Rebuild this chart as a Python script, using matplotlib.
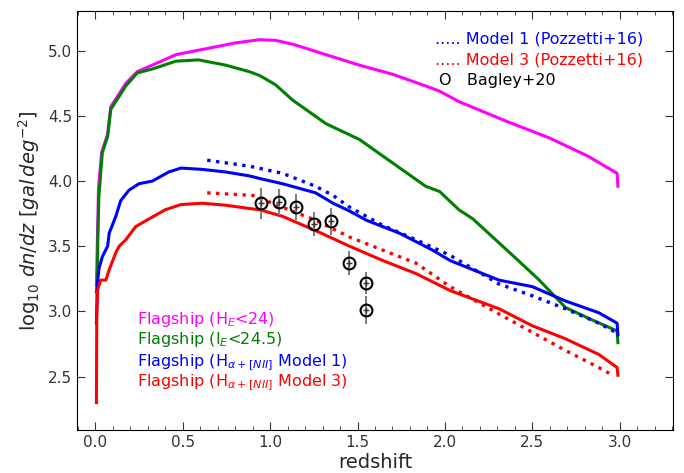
import numpy as np
import matplotlib
matplotlib.use('Agg')
import matplotlib.pyplot as plt
from matplotlib.ticker import MultipleLocator

# Flagship dn/dz curves
z_he = [0.006, 0.018, 0.036, 0.07, 0.088, 0.136, 0.174, 0.24, 0.326, 0.46, 0.65, 0.80,
        0.94, 1.03, 1.13, 1.32, 1.51, 1.70, 1.89, 1.97, 2.08, 2.35, 2.60, 2.82, 2.985, 2.99]
v_he = [3.2, 3.95, 4.22, 4.36, 4.57, 4.67, 4.75, 4.84, 4.89, 4.97, 5.02, 5.06,
        5.085, 5.08, 5.05, 4.97, 4.89, 4.82, 4.73, 4.69, 4.61, 4.46, 4.33, 4.19, 4.06, 3.96]

z_ie = [0.006, 0.012, 0.014, 0.02, 0.04, 0.07, 0.088, 0.136, 0.174, 0.24, 0.326, 0.46,
        0.59, 0.745, 0.88, 0.94, 1.03, 1.13, 1.32, 1.51, 1.70, 1.89, 1.97, 2.08, 2.16,
        2.42, 2.54, 2.69, 2.85, 2.985, 2.99]
v_ie = [3.15, 3.22, 3.55, 3.88, 4.22, 4.34, 4.55, 4.65, 4.73, 4.83, 4.86, 4.92,
        4.93, 4.89, 4.84, 4.81, 4.74, 4.62, 4.44, 4.32, 4.14, 3.96, 3.92, 3.78, 3.71,
        3.39, 3.24, 3.03, 2.93, 2.85, 2.76]

z_m1 = [0.006, 0.012, 0.021, 0.04, 0.07, 0.079, 0.117, 0.145, 0.192, 0.25, 0.326, 0.42,
        0.49, 0.61, 0.745, 0.88, 0.94, 1.07, 1.26, 1.36, 1.455, 1.55, 1.74, 1.93, 2.03,
        2.16, 2.31, 2.50, 2.69, 2.88, 2.985, 2.99]
v_m1 = [2.91, 3.22, 3.33, 3.42, 3.50, 3.60, 3.73, 3.85, 3.93, 3.98, 4.00, 4.07,
        4.10, 4.09, 4.07, 4.04, 4.02, 3.98, 3.91, 3.83, 3.77, 3.70, 3.60, 3.47, 3.39,
        3.32, 3.24, 3.19, 3.08, 2.99, 2.91, 2.82]

z_m3 = [0.006, 0.008, 0.012, 0.03, 0.06, 0.079, 0.117, 0.136, 0.174, 0.23, 0.307, 0.40,
        0.49, 0.61, 0.745, 0.88, 0.94, 1.07, 1.26, 1.455, 1.645, 1.835, 2.03, 2.31,
        2.50, 2.69, 2.88, 2.985, 2.99]
v_m3 = [2.30, 2.95, 3.16, 3.24, 3.24, 3.32, 3.45, 3.50, 3.55, 3.65, 3.71, 3.78,
        3.82, 3.83, 3.815, 3.79, 3.78, 3.73, 3.62, 3.50, 3.39, 3.29, 3.16, 3.02,
        2.89, 2.79, 2.67, 2.57, 2.51]

# Pozzetti+16 models
z_p1 = [0.64, 0.88, 1.07, 1.26, 1.36, 1.455, 1.645, 1.835, 2.03, 2.31, 2.50, 2.69, 2.88, 2.99]
v_p1 = [4.16, 4.115, 4.06, 3.96, 3.89, 3.80, 3.66, 3.55, 3.43, 3.21, 3.12, 3.02, 2.91, 2.83]

z_p3 = [0.64, 0.90, 1.07, 1.26, 1.455, 1.645, 1.835, 2.03, 2.31, 2.50, 2.69, 2.88, 2.96]
v_p3 = [3.91, 3.89, 3.80, 3.70, 3.57, 3.47, 3.37, 3.19, 2.98, 2.84, 2.70, 2.57, 2.51]

# Bagley+20
z_bag = [0.95, 1.05, 1.15, 1.25, 1.35, 1.45, 1.55, 1.55]
v_bag = [3.83, 3.84, 3.80, 3.67, 3.69, 3.37, 3.22, 3.01]
e_bag = [0.12, 0.10, 0.10, 0.09, 0.10, 0.09, 0.085, 0.11]

fig = plt.figure(figsize=(6.84, 4.73), dpi=100)
ax = fig.add_axes([0.1126, 0.0909, 0.8713, 0.8858])

lw = 2.2
ax.plot(z_he, v_he, color='magenta', lw=lw)
ax.plot(z_ie, v_ie, color='green', lw=lw)
ax.plot(z_m1, v_m1, color='blue', lw=lw)
ax.plot(z_m3, v_m3, color='red', lw=lw)
ax.plot(z_p1, v_p1, color='blue', lw=2.4, ls=':')
ax.plot(z_p3, v_p3, color='red', lw=2.4, ls=':')

ax.errorbar(z_bag, v_bag, yerr=e_bag, fmt='+', color='gray', ecolor='gray',
            elinewidth=1.5, markersize=4, mec='0.2', capsize=0)
ax.plot(z_bag, v_bag, 'o', mfc='none', mec='black', mew=1.5, ms=8.5)

ax.set_xlim(-0.105, 3.305)
ax.set_ylim(2.09, 5.305)
ax.xaxis.set_major_locator(MultipleLocator(0.5))
ax.xaxis.set_minor_locator(MultipleLocator(0.1))
ax.yaxis.set_major_locator(MultipleLocator(0.5))
ax.tick_params(which='both', direction='in', top=True, right=True,
               labelsize=11, colors='0.2')
ax.tick_params(which='major', length=6)
ax.tick_params(which='minor', length=3)

ax.set_xlabel('redshift', fontsize=14, color='0.15', labelpad=2)
ax.set_ylabel(r'log$_{10}$ $dn/dz$ [$gal\,deg^{-2}$]', fontsize=14, color='0.15')

fs = 11.5
ax.text(0.6007, 0.923, '..... Model 1 (Pozzetti+16)', color='blue', fontsize=fs,
        transform=ax.transAxes, va='baseline')
ax.text(0.6007, 0.8728, '..... Model 3 (Pozzetti+16)', color='red', fontsize=fs,
        transform=ax.transAxes, va='baseline')
ax.text(0.607, 0.8234, 'O   Bagley+20', color='black', fontsize=fs,
        transform=ax.transAxes, va='baseline')

ax.text(0.101, 0.252, r'Flagship (H$_E$<24)', color='magenta', fontsize=fs,
        transform=ax.transAxes, va='baseline')
ax.text(0.101, 0.2045, r'Flagship (I$_E$<24.5)', color='green', fontsize=fs,
        transform=ax.transAxes, va='baseline')
ax.text(0.101, 0.153, r'Flagship (H$_{\alpha+[NII]}$ Model 1)', color='blue', fontsize=fs,
        transform=ax.transAxes, va='baseline')
ax.text(0.101, 0.103, r'Flagship (H$_{\alpha+[NII]}$ Model 3)', color='red', fontsize=fs,
        transform=ax.transAxes, va='baseline')

fig.savefig('out.png', dpi=100)
